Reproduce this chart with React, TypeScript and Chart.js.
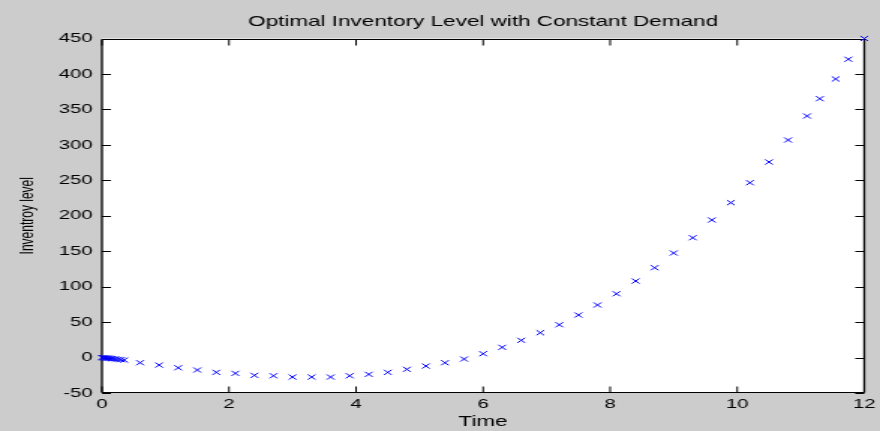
import React, { useEffect, useRef } from "react";
import { Chart, registerables } from "chart.js";

Chart.register(...registerables);

const chartTitle = "Optimal Inventory Level with Constant Demand";
const xAxisLabel = "Time";
const yAxisLabel = "Inventroy level";

// time samples (dense cluster near 0, then regular steps)
const timeValues = [
  0, 0.02, 0.04, 0.06, 0.08, 0.1, 0.12, 0.15, 0.18, 0.22, 0.26, 0.3, 0.35,
  0.6, 0.9, 1.2, 1.5, 1.8, 2.1, 2.4, 2.7, 3.0, 3.3, 3.6, 3.9, 4.2, 4.5, 4.8,
  5.1, 5.4, 5.7, 6.0, 6.3, 6.6, 6.9, 7.2, 7.5, 7.8, 8.1, 8.4, 8.7, 9.0, 9.3,
  9.6, 9.9, 10.2, 10.5, 10.8, 11.1, 11.3, 11.55, 11.75, 12.0,
];
const inventoryValues = [
  0, -0.2, -0.4, -0.6, -0.8, -1.0, -1.2, -1.5, -1.8, -2.2, -2.6, -3.0, -3.5,
  -7.3, -10.6, -14.4, -17.6, -20.9, -22.3, -25.1, -25.7, -27.5, -27.5, -27.5,
  -25.7, -23.7, -20.9, -16.6, -12.0, -7.3, -2.1, 5.4, 14.4, 24.3, 35.0, 46.3,
  60.0, 74.1, 90.0, 107.9, 126.7, 147.4, 169.0, 194.0, 218.4, 246.6, 275.8,
  306.8, 340.7, 365.1, 392.9, 420.7, 450,
];
const xTickRange = { min: 0, max: 12, step: 2 };
const yTickRange = { min: -50, max: 450, step: 50 };

const FONT = "'Liberation Sans', Arial, Helvetica, sans-serif";
const INNER_W = 587;
const INNER_H = 431;
const TICK_LEN = 6;

const framePlugin = {
  id: "matlabFrame",
  beforeDraw(chart: any) {
    const { ctx, chartArea: a } = chart;
    ctx.save();
    ctx.fillStyle = "#cccccc";
    ctx.fillRect(0, 0, chart.width, chart.height);
    ctx.fillStyle = "#ffffff";
    ctx.fillRect(a.left, a.top, a.right - a.left, a.bottom - a.top);
    ctx.restore();
  },
  beforeDatasetsDraw(chart: any) {
    const { ctx, chartArea: a, scales } = chart;
    const top = Math.round(a.top) + 0.5;
    const bottom = Math.round(a.bottom) - 0.5;
    ctx.save();
    ctx.strokeStyle = "#000000";
    ctx.lineWidth = 1;
    ctx.beginPath();
    ctx.moveTo(a.left, top);
    ctx.lineTo(a.right, top);
    ctx.moveTo(a.left, bottom);
    ctx.lineTo(a.right, bottom);
    const xs = scales.x;
    const ys = scales.y;
    xs.ticks.forEach((t: any) => {
      const px = xs.getPixelForValue(t.value);
      ctx.moveTo(px, bottom);
      ctx.lineTo(px, bottom - TICK_LEN);
      ctx.moveTo(px, top);
      ctx.lineTo(px, top + TICK_LEN);
    });
    ys.ticks.forEach((t: any) => {
      const py = Math.round(ys.getPixelForValue(t.value)) + 0.5;
      ctx.moveTo(a.left, py);
      ctx.lineTo(a.left + TICK_LEN, py);
      ctx.moveTo(a.right, py);
      ctx.lineTo(a.right - TICK_LEN, py);
    });
    ctx.stroke();
    ctx.lineWidth = 1.3;
    ctx.beginPath();
    ctx.moveTo(a.left, top);
    ctx.lineTo(a.left, bottom);
    ctx.moveTo(a.right, top);
    ctx.lineTo(a.right, bottom);
    ctx.stroke();
    ctx.restore();
  },
};

export default function App() {
  const canvasRef = useRef<HTMLCanvasElement | null>(null);

  useEffect(() => {
    const canvas = canvasRef.current;
    if (!canvas) return;
    const points = timeValues.map((t, i) => ({ x: t, y: inventoryValues[i] }));
    const chart = new Chart(canvas, {
      type: "scatter",
      data: {
        datasets: [
          {
            data: points,
            showLine: false,
            pointStyle: "crossRot",
            pointRadius: 3.6,
            pointHoverRadius: 3.6,
            borderColor: "#0000ff",
            backgroundColor: "#0000ff",
            borderWidth: 1,
            clip: false as any,
          },
        ],
      },
      options: {
        animation: false,
        responsive: false,
        devicePixelRatio: 1,
        events: [],
        layout: { padding: { left: 0, right: 9.33, top: 0, bottom: 0 } },
        plugins: {
          legend: { display: false },
          tooltip: { enabled: false },
          title: {
            display: true,
            text: chartTitle,
            fullSize: false,
            color: "#000000",
            font: { family: FONT, size: 15, weight: "normal" },
            padding: { top: 12.5, bottom: 8 },
          },
        },
        scales: {
          x: {
            type: "linear",
            min: xTickRange.min,
            max: xTickRange.max,
            grid: { display: false, drawTicks: false },
            border: { display: false },
            ticks: {
              stepSize: xTickRange.step,
              autoSkip: false,
              maxRotation: 0,
              padding: 3,
              color: "#000000",
              font: { family: FONT, size: 13.5 },
            },
            title: {
              display: true,
              text: xAxisLabel,
              color: "#000000",
              font: { family: FONT, size: 15 },
              padding: { top: 0, bottom: 0.5 },
            },
            afterFit(scale: any) {
              scale.height = 38;
            },
          },
          y: {
            type: "linear",
            min: yTickRange.min,
            max: yTickRange.max,
            grid: { display: false, drawTicks: false },
            border: { display: false },
            ticks: {
              stepSize: yTickRange.step,
              autoSkip: false,
              padding: 6.3,
              color: "#000000",
              font: { family: FONT, size: 13.5 },
            },
            title: {
              display: true,
              text: yAxisLabel,
              color: "#000000",
              font: { family: FONT, size: 12 },
              padding: { top: 11.1, bottom: 0 },
            },
            afterFit(scale: any) {
              scale.width = 68;
            },
          },
        },
      } as any,
      plugins: [framePlugin],
    });
    return () => chart.destroy();
  }, []);

  return (
    <div
      style={{
        position: "absolute",
        left: 0,
        top: 0,
        width: 880,
        height: 431,
        background: "#cccccc",
        overflow: "hidden",
      }}
    >
      <canvas
        ref={canvasRef}
        width={INNER_W}
        height={INNER_H}
        style={{ width: "880px", height: "431px", display: "block" }}
      />
    </div>
  );
}
